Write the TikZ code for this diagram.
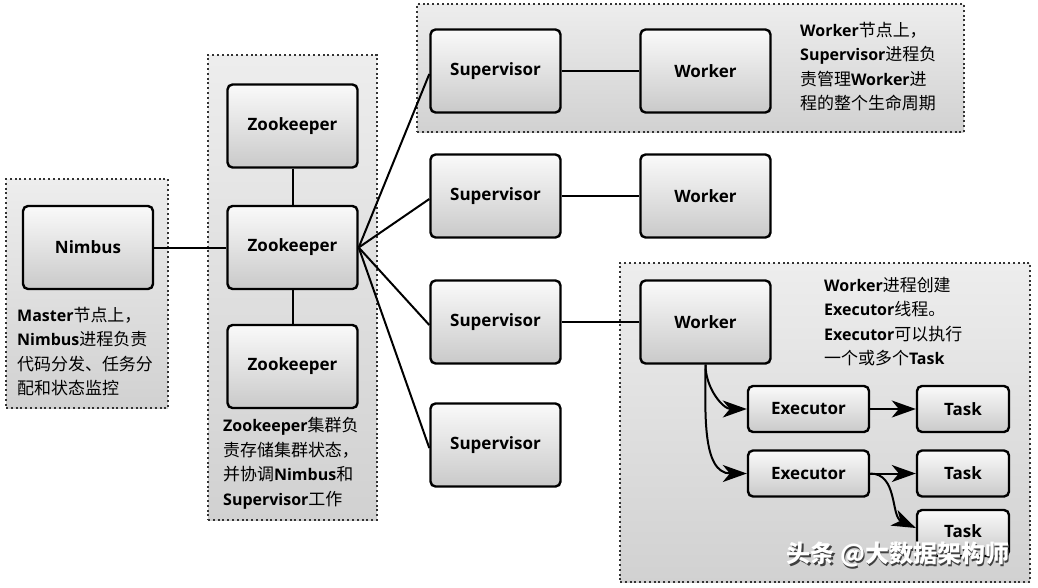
\documentclass[tikz,border=0pt]{standalone}
\usepackage{fontspec}
\setmainfont{Open Sans}
\newfontfamily\cjk{Noto Sans CJK SC}[Scale=1.06]
\newfontfamily\wmfont{Noto Sans CJK SC}
\newcommand\zh[1]{{\cjk\mdseries #1}}
\usetikzlibrary{arrows.meta}
\begin{document}
\begin{tikzpicture}[x=1pt,y=-1pt,
  box/.style={draw=black, line width=2.4pt, rounded corners=5pt,
    top color=gray!4, bottom color=gray!42,
    minimum width=130pt, minimum height=83pt, inner sep=0pt,
    font=\fontsize{17}{20}\selectfont\bfseries},
  smallbox/.style={box, minimum height=46pt},
  group/.style={draw=black!80, line width=2pt, dash pattern=on 2pt off 2.8pt,
    top color=gray!14, bottom color=gray!36, inner sep=0pt},
  note/.style={anchor=north west, align=left, inner sep=0pt,
    font=\fontsize{16}{24.5}\selectfont\bfseries},
  link/.style={line width=2pt},
  arr/.style={line width=2pt, -{Stealth[length=24pt,width=17pt,inset=7pt]}},
  wm/.style={font=\wmfont\bfseries\fontsize{24}{28}\selectfont}
]
\useasboundingbox[fill=white] (0,0) rectangle (1038,587);

% groups
\node[group, minimum width=162pt, minimum height=229pt] (gN) at (87,293.5) {};
\node[group, minimum width=169pt, minimum height=465pt] (gZ) at (292.5,287.5) {};
\node[group, minimum width=547pt, minimum height=128pt] (gS) at (690.5,68) {};
\node[group, minimum width=410pt, minimum height=319pt] (gW) at (825,422.5) {};

% boxes
\node[box] (nimbus) at (88,247.5) {Nimbus};
\node[box] (zk1) at (292.5,126) {Zookeeper};
\node[box] (zk2) at (292.5,247.5) {Zookeeper};
\node[box] (zk3) at (292.5,366.5) {Zookeeper};
\node[box] (sup1) at (495.5,71) {Supervisor};
\node[box] (sup2) at (495.5,196) {Supervisor};
\node[box] (sup3) at (495.5,322) {Supervisor};
\node[box] (sup4) at (495.5,445) {Supervisor};
\node[box] (w1) at (705.5,71) {Worker};
\node[box] (w2) at (705.5,196) {Worker};
\node[box] (w3) at (705.5,322) {Worker};
\node[smallbox, minimum width=121pt] (ex1) at (808.5,409) {Executor};
\node[smallbox, minimum width=121pt] (ex2) at (808.5,473.5) {Executor};
\node[smallbox, minimum width=92pt] (t1) at (963,409) {Task};
\node[smallbox, minimum width=92pt] (t2) at (963,473.5) {Task};
\node[smallbox, minimum width=92pt] (t3) at (963,533) {\raisebox{3pt}{Task}};

% connectors
\draw[link] (nimbus.east) -- (zk2.west);
\draw[link] (zk1.south) -- (zk2.north);
\draw[link] (zk2.south) -- (zk3.north);
\foreach \s in {sup1,sup2,sup3,sup4} \draw[link] (zk2.east) -- ([yshift=-3pt]\s.west);
\draw[link] (sup1.east) -- (w1.west);
\draw[link] (sup2.east) -- (w2.west);
\draw[link] (sup3.east) -- (w3.west);
\draw[arr] (w3.south) to[out=-90,in=180] (ex1.west);
\draw[arr] (w3.south) to[out=-90,in=180] (ex2.west);
\draw[arr] (ex1.east) -- (t1.west);
\draw[arr] (ex2.east) -- (t2.west);
\draw[arr] (ex2.east) to[out=0,in=155] ([yshift=5pt]t3.west);

% notes
\node[note] (nN) at (17,307) {Master\zh{节点上，}\\Nimbus\zh{进程负责}\\\zh{代码分发、任务分}\\\zh{配和状态监控}};
\node[note] (nZ) at (223,417) {Zookeeper\zh{集群负}\\\zh{责存储集群状态，}\\\zh{并协调}Nimbus\zh{和}\\Supervisor\zh{工作}};
\node[note] (nS) at (800,22) {Worker\zh{节点上，}\\Supervisor\zh{进程负}\\\zh{责管理}Worker\zh{进}\\\zh{程的整个生命周期}};
\node[note] (nW) at (824,277) {Worker\zh{进程创建}\\Executor\zh{线程。}\\Executor\zh{可以执行}\\\zh{一个或多个}Task};

% watermark
\node[wm, text=black!75] (wms) at (899.5,556.5) {头条 @大数据架构师};
\node[wm, text=white] (wmk) at (898,555) {头条 @大数据架构师};
\end{tikzpicture}
\end{document}
